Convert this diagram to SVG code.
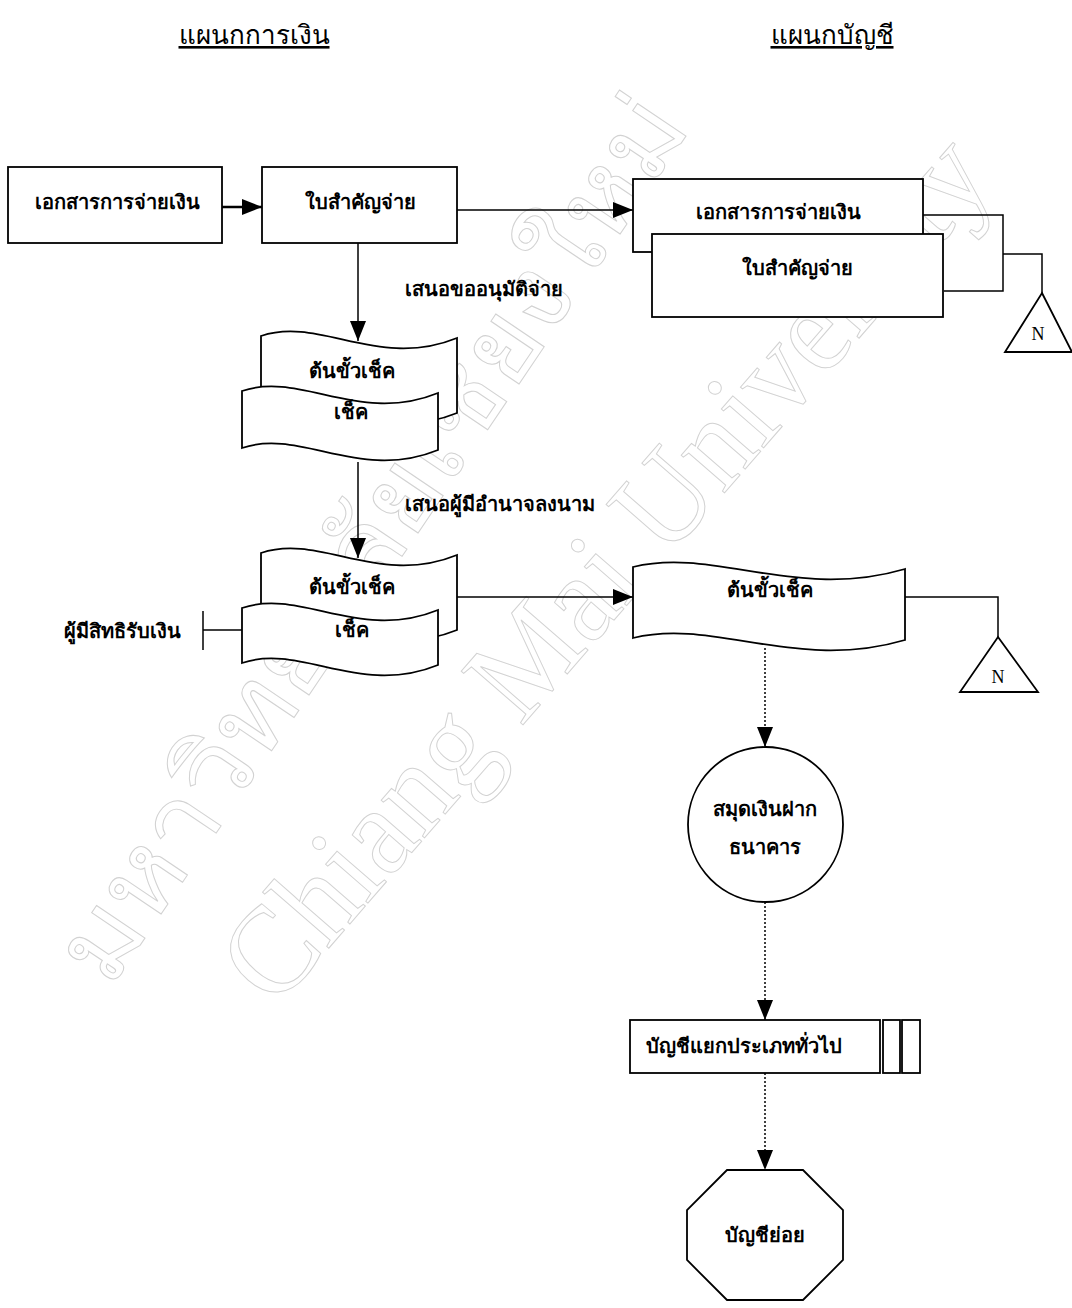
<svg xmlns="http://www.w3.org/2000/svg" width="1072" height="1308" viewBox="0 0 1072 1308">
<style>
.t{font-family:"Liberation Serif","Noto Sans","DejaVu Sans",serif;font-size:20px;fill:#000;text-anchor:middle;font-weight:bold}
.h{font-family:"Liberation Serif","Noto Sans","DejaVu Sans",serif;font-size:26px;fill:#000;text-anchor:middle;text-decoration:underline}
.n{font-family:"Liberation Serif",serif;font-size:18px;fill:#000;text-anchor:middle}
.s{fill:#fff;stroke:#000;stroke-width:1.8}
.c{fill:none;stroke:#000;stroke-width:1.5}
.d{fill:none;stroke:#000;stroke-width:1.5;stroke-dasharray:2 2}
.w{fill:none;stroke:#d2d2d2;stroke-width:1;font-family:"Liberation Serif",serif}
</style>
<defs>
<marker id="ah" viewBox="0 0 20 16" refX="20" refY="8" markerWidth="20" markerHeight="16" markerUnits="userSpaceOnUse" orient="auto"><path d="M0,0L20,8L0,16z" fill="#000"/></marker>
</defs>
<rect width="1072" height="1308" fill="#fff"/>
<g id="watermark">
<text class="w" font-size="105" transform="translate(110,990) rotate(-56)" textLength="1040" lengthAdjust="spacingAndGlyphs" style="font-family:'Noto Sans','DejaVu Sans',serif">มหาวิทยาลัยเชียงใหม่</text>
<text class="w" font-size="125" transform="translate(275,1010) rotate(-49)" textLength="1100" lengthAdjust="spacingAndGlyphs">Chiang Mai University</text>
</g>
<g id="headers">
<text class="h" x="254" y="44">แผนกการเงิน</text>
<text class="h" x="832" y="44">แผนกบัญชี</text>
</g>
<g id="connectors">
<line class="c" x1="222" y1="207" x2="262" y2="207" marker-end="url(#ah)" style="stroke-width:2.5"/>
<line class="c" x1="457" y1="210" x2="633" y2="210" marker-end="url(#ah)"/>
<line class="c" x1="358" y1="243" x2="358" y2="341" marker-end="url(#ah)"/>
<line class="c" x1="358" y1="462" x2="358" y2="558" marker-end="url(#ah)"/>
<line class="c" x1="457" y1="597" x2="633" y2="597" marker-end="url(#ah)"/>
<polyline class="c" points="923,215 1003,215 1003,291 944,291"/>
<polyline class="c" points="1003,254 1042,254 1042,293"/>
<polyline class="c" points="905,597 998,597 998,637"/>
<line class="c" x1="203" y1="630" x2="242" y2="630"/>
<line class="c" x1="203" y1="611" x2="203" y2="650"/>
<line class="d" x1="765" y1="648" x2="765" y2="747" marker-end="url(#ah)"/>
<line class="d" x1="765" y1="902" x2="765" y2="1020" marker-end="url(#ah)"/>
<line class="d" x1="765" y1="1073" x2="765" y2="1170" marker-end="url(#ah)"/>
<text class="t" x="405" y="296" style="text-anchor:start">เสนอขออนุมัติจ่าย</text>
<text class="t" x="405" y="511" style="text-anchor:start">เสนอผู้มีอำนาจลงนาม</text>
</g>
<g id="doc-payment">
<rect class="s" x="8" y="167" width="214" height="76"/>
<text class="t" x="117" y="209">เอกสารการจ่ายเงิน</text>
</g>
<g id="voucher">
<rect class="s" x="262" y="167" width="195" height="76"/>
<text class="t" x="360" y="209">ใบสำคัญจ่าย</text>
</g>
<g id="acct-docs">
<rect class="s" x="633" y="179" width="290" height="73"/>
<text class="t" x="778" y="219">เอกสารการจ่ายเงิน</text>
<rect class="s" x="652" y="234" width="291" height="83"/>
<text class="t" x="797" y="275">ใบสำคัญจ่าย</text>
</g>
<g id="file-n1">
<polygon class="s" points="1042,293 1072,352 1005,352"/>
<text class="n" x="1038" y="340">N</text>
</g>
<g id="cheque-pair-1">
<path class="s" d="M261,336 C319.8,316 378.6,370 457,338 L457,413 C378.6,445 319.8,391 261,411 Z"/>
<text class="t" x="352" y="378">ต้นขั้วเช็ค</text>
<path class="s" d="M242,391 C300.8,371 359.6,425 438,393 L438,450 C359.6,482 300.8,428 242,448 Z"/>
<text class="t" x="351" y="419">เช็ค</text>
</g>
<g id="cheque-pair-2">
<path class="s" d="M261,553 C319.8,533 378.6,587 457,555 L457,630 C378.6,662 319.8,608 261,628 Z"/>
<text class="t" x="352" y="594">ต้นขั้วเช็ค</text>
<path class="s" d="M242,608 C300.8,588 359.6,642 438,610 L438,665 C359.6,697 300.8,643 242,663 Z"/>
<text class="t" x="352" y="637">เช็ค</text>
</g>
<g id="payee">
<text class="t" x="122" y="638">ผู้มีสิทธิรับเงิน</text>
</g>
<g id="stub-acct">
<path class="s" d="M633,567 C714.6,547 796.2,601 905,569 L905,640 C796.2,672 714.6,618 633,638 Z"/>
<text class="t" x="770" y="597">ต้นขั้วเช็ค</text>
</g>
<g id="file-n2">
<polygon class="s" points="998,637 1038,692 960,692"/>
<text class="n" x="998" y="683">N</text>
</g>
<g id="bank-book">
<circle class="s" cx="765.5" cy="824.5" r="77.5"/>
<text class="t" x="765" y="816">สมุดเงินฝาก</text>
<text class="t" x="765" y="854">ธนาคาร</text>
</g>
<g id="general-ledger">
<rect class="s" x="902" y="1020" width="18" height="53"/>
<rect class="s" x="883" y="1020" width="17" height="53"/>
<rect class="s" x="630" y="1020" width="250" height="53"/>
<text class="t" x="744" y="1053">บัญชีแยกประเภททั่วไป</text>
</g>
<g id="subsidiary-ledger">
<polygon class="s" points="727,1170 803,1170 843,1210 843,1260 803,1300 727,1300 687,1260 687,1210"/>
<text class="t" x="765" y="1242">บัญชีย่อย</text>
</g>
</svg>
